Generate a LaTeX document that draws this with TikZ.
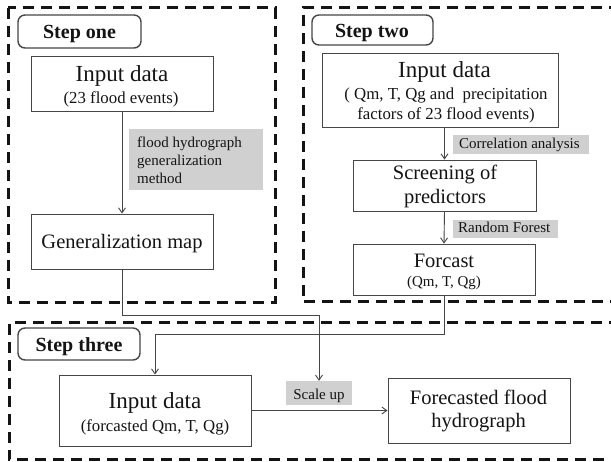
\documentclass[tikz,border=0pt]{standalone}
\usepackage{fontspec}
\setmainfont{Liberation Serif}
\usetikzlibrary{arrows.meta}
\definecolor{lbl}{RGB}{208,208,208}
\definecolor{ink}{RGB}{20,20,20}
\definecolor{edge}{RGB}{70,70,70}
\begin{document}
\begin{tikzpicture}[x=1pt,y=-1pt,
 frame/.style={line width=3pt, dash pattern=on 11pt off 7pt, draw=ink},
 box/.style={draw=edge, line width=0.9pt, fill=white, inner sep=0pt},
 tagbox/.style={draw=edge, line width=1.4pt, rounded corners=7pt, fill=white, inner sep=0pt},
 gbox/.style={fill=lbl, inner sep=0pt},
 big/.style={anchor=base, inner sep=0pt, text=ink, font=\fontsize{23}{23}\selectfont},
 mid/.style={anchor=base, inner sep=0pt, text=ink, font=\fontsize{20.5}{20.5}\selectfont},
 small/.style={anchor=base, inner sep=0pt, text=ink, font=\fontsize{16.8}{16.8}\selectfont},
 note/.style={anchor=base west, inner sep=0pt, text=ink, font=\fontsize{15}{15}\selectfont},
 title/.style={anchor=base, inner sep=0pt, text=ink, font=\bfseries\fontsize{20}{20}\selectfont},
 link/.style={draw=edge, line width=0.9pt, -{Straight Barb[length=5pt,width=7pt]}},
 ]
\useasboundingbox[fill=white] (0,0) rectangle (611,462);

% dashed frames
\draw[frame] (8,8) rectangle (275,303);
\draw[frame] (620,8) -- (303,8) -- (303,302) -- (620,302);
\draw[frame] (620,323) -- (9,323) -- (9,460) -- (620,460);

% step labels
\node[tagbox, minimum width=123pt, minimum height=33pt] (l1) at (79.5,31.5) {};
\node[title] (l1t) at (79.5,38.3) {Step one};
\node[tagbox, minimum width=121pt, minimum height=30pt] (l2) at (372.5,30) {};
\node[title] (l2t) at (372,37.7) {Step two};
\node[tagbox, minimum width=122pt, minimum height=32pt] (l3) at (79,344) {};
\node[title] (l3t) at (79,351.7) {Step three};

% step one
\node[box, minimum width=182pt, minimum height=55pt] (a1) at (122,83.5) {};
\node[big] (a1t) at (122,81.7) {Input data};
\node[small] (a1s) at (121,103.5) {(23 flood events)};
\node[gbox, minimum width=134pt, minimum height=61pt] (g1) at (196,159.5) {};
\node[note] (g1a) at (137,147.7) {flood hydrograph};
\node[note] (g1b) at (137,165.7) {generalization};
\node[note] (g1c) at (137,183.7) {method};
\node[box, minimum width=182pt, minimum height=55pt] (b1) at (122,241.5) {};
\node[mid] (b1t) at (122,249) {Generalization map};

% step two
\node[box, minimum width=236pt, minimum height=74pt] (a2) at (440,90) {};
\node[big] (a2t) at (444.5,77.3) {Input data};
\node[small] (a2s) at (446,100) {( Qm, T, Qg and \ precipitation};
\node[small] (a2u) at (446,119.3) {factors of 23 flood events)};
\node[gbox, minimum width=136pt, minimum height=19pt] (g2) at (521,144.5) {};
\node[note] (g2t) at (459,148.8) {Correlation analysis};
\node[box, minimum width=183pt, minimum height=51pt] (s2) at (444.5,185.5) {};
\node[mid] (s2a) at (445,180) {Screening of};
\node[mid] (s2b) at (445,204) {predictors};
\node[gbox, minimum width=105pt, minimum height=18pt] (g3) at (505.5,229) {};
\node[note] (g3t) at (458,233) {Random Forest};
\node[box, minimum width=182pt, minimum height=51pt] (f2) at (444,269.5) {};
\node[mid] (f2a) at (444,267.7) {Forcast};
\node[small, font=\fontsize{15}{15}\selectfont] (f2b) at (444,287) {(Qm, T, Qg)};

% step three
\node[box, minimum width=192pt, minimum height=71pt] (a3) at (155,410.5) {};
\node[big] (a3t) at (155,409) {Input data};
\node[small] (a3s) at (155,431.7) {(forcasted Qm, T, Qg)};
\node[gbox, minimum width=66pt, minimum height=24pt] (su) at (319,393) {};
\node[note, anchor=base] (sut) at (319,399.3) {Scale up};
\node[box, minimum width=182pt, minimum height=65pt] (r3) at (479,410.5) {};
\node[mid] (r3a) at (478.5,405) {Forecasted flood};
\node[mid] (r3b) at (478.5,427.3) {hydrograph};

% connectors
\coordinate (j1) at (122,315);
\coordinate (j2) at (444,334);
\draw[link] (a1.south) -- (b1.north);
\draw[link] (s2.north |- a2.south) -- (s2.north);
\draw[link] (s2.south) -- (f2.north);
\draw[link] (b1.south) -- (j1) -| (su.north);
\draw[link] (f2.south) -- (j2) -| (a3.north);
\draw[link] (a3.east) -- (r3.west);
\end{tikzpicture}
\end{document}
